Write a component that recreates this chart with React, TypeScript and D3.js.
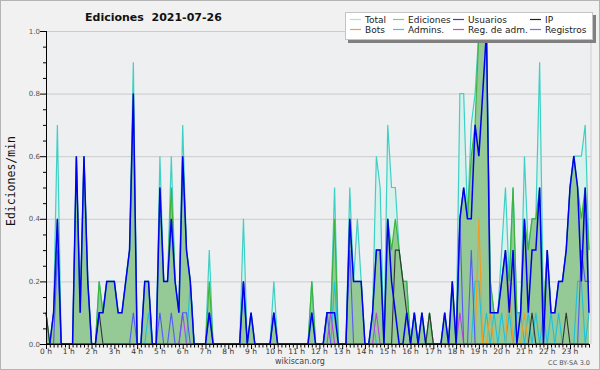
import React from "react";
import * as d3 from "d3";

// 10-minute buckets, values in edits/min
const hourLabels = d3.range(24).map((h) => `${h} h`);
const yLabels = [0, 0.2, 0.4, 0.6, 0.8, 1.0];

const total = [
  0.1, 0, 0.1, 0.7, 0, 0, 0, 0, 0.6, 0.1, 0.6, 0.2,
  0, 0, 0.2, 0.1, 0.2, 0.2, 0.2, 0.1, 0.1, 0.2, 0.3, 0.9,
  0, 0, 0.2, 0.2, 0, 0, 0.6, 0.2, 0.2, 0.6, 0.2, 0.1,
  0.7, 0.3, 0.2, 0, 0, 0, 0, 0.3, 0, 0, 0, 0,
  0, 0, 0, 0, 0.4, 0, 0.1, 0, 0, 0, 0, 0,
  0.2, 0, 0, 0, 0, 0, 0, 0, 0, 0, 0.2, 0,
  0, 0, 0.1, 0.1, 0.5, 0, 0, 0, 0.5, 0.2, 0.4, 0.2,
  0, 0, 0.1, 0.6, 0.5, 0, 0.7, 0.5, 0.5, 0.3, 0.2, 0.2,
  0, 0.1, 0, 0.1, 0, 0.1, 0, 0, 0, 0.1, 0, 0.2,
  0, 0.8, 0.8, 0.4, 0.7, 0.8, 1, 1, 1, 0.2, 0.1, 0.1,
  0.3, 0.5, 0.2, 0.5, 0.1, 0.1, 0.6, 0.3, 0.4, 0.4, 0.9, 0.1,
  0.3, 0.1, 0.1, 0.2, 0.2, 0.3, 0.5, 0.6, 0.6, 0.6, 0.7, 0.3,
];

const ediciones = [
  0.1, 0, 0.1, 0.4, 0, 0, 0, 0, 0.6, 0.1, 0.6, 0.2,
  0, 0, 0.2, 0.1, 0.2, 0.2, 0.2, 0.1, 0.1, 0.2, 0.3, 0.8,
  0, 0, 0.2, 0.2, 0, 0, 0.5, 0.2, 0.2, 0.5, 0.2, 0.1,
  0.6, 0.3, 0.2, 0, 0, 0, 0, 0.2, 0, 0, 0, 0,
  0, 0, 0, 0, 0.2, 0, 0.1, 0, 0, 0, 0, 0,
  0.1, 0, 0, 0, 0, 0, 0, 0, 0, 0, 0.2, 0,
  0, 0, 0.1, 0.1, 0.4, 0, 0, 0, 0.4, 0.2, 0.2, 0.2,
  0, 0, 0.1, 0.3, 0.3, 0, 0.4, 0.3, 0.4, 0.3, 0.2, 0.2,
  0, 0.1, 0, 0.1, 0, 0.1, 0, 0, 0, 0.1, 0, 0.2,
  0, 0.4, 0.5, 0.4, 0.6, 0.7, 1, 1, 1, 0.2, 0.1, 0.1,
  0.2, 0.3, 0.2, 0.5, 0.1, 0.1, 0.4, 0.3, 0.4, 0.4, 0.5, 0.1,
  0.3, 0.1, 0.1, 0.2, 0.2, 0.3, 0.5, 0.6, 0.5, 0.4, 0.5, 0.3,
];

const usuarios = [
  0, 0, 0.1, 0.4, 0, 0, 0, 0, 0.6, 0.1, 0.6, 0.2,
  0, 0, 0.1, 0.1, 0.2, 0.2, 0.2, 0.1, 0.1, 0.2, 0.3, 0.8,
  0, 0, 0.2, 0.2, 0, 0, 0.5, 0.2, 0.2, 0.4, 0.2, 0.1,
  0.6, 0.3, 0.2, 0, 0, 0, 0, 0.1, 0, 0, 0, 0,
  0, 0, 0, 0, 0.2, 0, 0.1, 0, 0, 0, 0, 0,
  0.1, 0, 0, 0, 0, 0, 0, 0, 0, 0, 0.1, 0,
  0, 0, 0.1, 0.1, 0.1, 0, 0, 0, 0.4, 0.2, 0.2, 0.2,
  0, 0, 0.1, 0.3, 0.3, 0, 0.4, 0.2, 0.1, 0, 0, 0.1,
  0, 0.1, 0, 0.1, 0, 0, 0, 0, 0, 0.1, 0, 0.2,
  0, 0.4, 0.5, 0.4, 0.4, 0.7, 0.6, 0.8, 1, 0.1, 0.1, 0.1,
  0.2, 0.3, 0.1, 0.3, 0, 0.1, 0.4, 0.1, 0.3, 0.3, 0.5, 0,
  0.3, 0.1, 0.1, 0.2, 0.2, 0.3, 0.5, 0.6, 0.5, 0.2, 0.5, 0.1,
];

const ip = [
  0.1, 0, 0, 0, 0, 0, 0, 0, 0, 0, 0, 0,
  0, 0, 0.1, 0, 0, 0, 0, 0, 0, 0, 0, 0,
  0, 0, 0, 0, 0, 0, 0, 0, 0, 0, 0, 0,
  0, 0, 0, 0, 0, 0, 0, 0, 0, 0, 0, 0,
  0, 0, 0, 0, 0, 0, 0, 0, 0, 0, 0, 0,
  0, 0, 0, 0, 0, 0, 0, 0, 0, 0, 0, 0,
  0, 0, 0, 0, 0, 0, 0, 0, 0, 0, 0, 0,
  0, 0, 0, 0, 0, 0, 0, 0, 0.3, 0.3, 0.2, 0.1,
  0, 0, 0, 0, 0, 0.1, 0, 0, 0, 0, 0, 0,
  0, 0, 0, 0, 0, 0, 0, 0, 0, 0, 0, 0,
  0, 0, 0, 0, 0, 0, 0, 0, 0.1, 0, 0, 0,
  0, 0, 0, 0, 0, 0.1, 0, 0, 0, 0, 0, 0,
];

const bots = [
  0, 0, 0, 0, 0, 0, 0, 0, 0, 0, 0, 0,
  0, 0, 0, 0, 0, 0, 0, 0, 0, 0, 0, 0,
  0, 0, 0, 0, 0, 0, 0, 0, 0, 0, 0, 0,
  0, 0, 0, 0, 0, 0, 0, 0, 0, 0, 0, 0,
  0, 0, 0, 0, 0, 0, 0, 0, 0, 0, 0, 0,
  0, 0, 0, 0, 0, 0, 0, 0, 0, 0, 0, 0,
  0, 0, 0, 0, 0, 0, 0, 0, 0, 0, 0, 0,
  0, 0, 0, 0, 0, 0, 0, 0, 0, 0, 0, 0,
  0, 0, 0, 0, 0, 0, 0, 0, 0, 0, 0, 0,
  0, 0, 0, 0, 0, 0, 0.4, 0, 0, 0.1, 0, 0,
  0, 0, 0.2, 0, 0, 0, 0.1, 0, 0, 0, 0, 0,
  0, 0, 0, 0, 0, 0, 0, 0, 0, 0, 0, 0,
];

const admins = [
  0, 0, 0, 0, 0, 0, 0, 0, 0, 0, 0, 0,
  0, 0, 0, 0, 0, 0, 0, 0, 0, 0, 0, 0,
  0, 0, 0, 0.1, 0, 0, 0, 0, 0, 0, 0, 0,
  0, 0, 0.2, 0, 0, 0, 0, 0.1, 0, 0, 0, 0,
  0, 0, 0, 0, 0, 0, 0, 0, 0, 0, 0, 0,
  0, 0, 0, 0, 0, 0, 0, 0, 0, 0, 0.1, 0,
  0, 0, 0, 0, 0.2, 0, 0, 0, 0, 0, 0, 0,
  0, 0, 0.1, 0, 0, 0, 0, 0, 0, 0, 0, 0,
  0, 0.1, 0, 0, 0, 0, 0, 0, 0, 0, 0, 0,
  0, 0, 0, 0, 0, 0.2, 0.2, 0, 0.1, 0, 0.1, 0,
  0.1, 0, 0.1, 0, 0.1, 0.1, 0, 0.1, 0, 0.1, 0, 0.1,
  0, 0.1, 0, 0.1, 0, 0, 0, 0, 0.2, 0.2, 0, 0.1,
];

const regAdm = [
  0, 0, 0, 0, 0, 0, 0, 0, 0, 0, 0, 0,
  0, 0, 0, 0, 0, 0, 0, 0, 0, 0, 0, 0,
  0, 0, 0, 0, 0, 0, 0, 0, 0, 0, 0, 0,
  0.1, 0, 0, 0, 0, 0, 0, 0, 0, 0, 0, 0,
  0, 0, 0, 0, 0, 0, 0, 0, 0, 0, 0, 0,
  0, 0, 0, 0, 0, 0, 0, 0, 0, 0, 0, 0,
  0, 0, 0, 0.1, 0, 0, 0, 0, 0, 0, 0, 0,
  0, 0, 0, 0.1, 0, 0, 0, 0, 0, 0, 0, 0,
  0, 0, 0, 0, 0, 0, 0, 0, 0, 0, 0, 0,
  0, 0.1, 0, 0, 0, 0, 0, 0, 0, 0, 0, 0,
  0, 0, 0, 0, 0, 0, 0, 0, 0, 0, 0, 0,
  0, 0, 0, 0, 0, 0, 0, 0, 0, 0, 0, 0,
];

const registros = [
  0, 0, 0, 0.3, 0, 0, 0, 0, 0, 0, 0, 0,
  0, 0, 0, 0, 0, 0, 0, 0, 0, 0, 0, 0.1,
  0, 0, 0, 0, 0, 0, 0.1, 0, 0, 0.1, 0, 0,
  0.1, 0.1, 0, 0, 0, 0, 0, 0.1, 0, 0, 0, 0,
  0, 0, 0, 0, 0.2, 0, 0, 0, 0, 0, 0, 0,
  0.1, 0, 0, 0, 0, 0, 0, 0, 0, 0, 0, 0,
  0, 0, 0.1, 0, 0, 0, 0, 0, 0.3, 0, 0, 0,
  0, 0, 0, 0, 0, 0, 0, 0, 0, 0, 0, 0,
  0, 0, 0, 0, 0, 0, 0, 0, 0, 0, 0, 0,
  0, 0.4, 0, 0, 0.3, 0, 0, 0, 0, 0, 0, 0,
  0, 0, 0, 0, 0, 0, 0, 0, 0, 0, 0, 0,
  0, 0, 0, 0, 0, 0, 0, 0, 0, 0.3, 0.2, 0.2,
];

const legendNames = ["Total", "Ediciones", "Usuarios", "IP", "Bots", "Admins.", "Reg. de adm.", "Registros"];
const legendColors = ["#a6e3de", "#7fce7f", "#3a3ae6", "#222222", "#f2a03c", "#3cc4e4", "#c646e0", "#7272f2"];
const legendCols = [350, 393, 453, 530];

const FONT = "'DejaVu Sans', Verdana, sans-serif";

export default function App() {
  const x = d3.scaleLinear().domain([0, 143]).range([46, 589]);
  const y = d3.scaleLinear().domain([0, 1]).range([344, 31]);

  const line = d3
    .line<number>()
    .x((_, i) => x(i))
    .y((d) => y(d));
  const area = d3
    .area<number>()
    .x((_, i) => x(i))
    .y0(y(0))
    .y1((d) => y(d));

  const yTicks = d3.range(0, 21).map((k) => k / 20);

  return (
    <svg width={600} height={370} style={{ position: "absolute", left: 0, top: 0 }} fontFamily={FONT}>
      <rect x={0.5} y={0.5} width={599} height={369} fill="#f1f1f1" stroke="#b4b4b4" />
      <rect x={46} y={31} width={545} height={313} fill="#edeff1" />
      <line x1={591} x2={591} y1={31} y2={344} stroke="#cfcfcf" />

      {/* grid */}
      {yLabels.slice(1).map((v) => (
        <line key={v} x1={46} x2={591} y1={y(v) + 0.5} y2={y(v) + 0.5} stroke="#cccccc" />
      ))}

      {/* title */}
      <text x={85} y={21} fontSize={11} fontWeight="bold" fill="#111" style={{ whiteSpace: "pre" }}>
        {"Ediciones  2021-07-26"}
      </text>

      {/* series */}
      <path d={area(total) ?? ""} fill="#d9f1ed" />
      <path d={area(ediciones) ?? ""} fill="#95c995" />
      <path d={line(total) ?? ""} fill="none" stroke="#3ed0c4" strokeWidth={1.2} />
      <path d={line(ediciones) ?? ""} fill="none" stroke="#3cb43c" strokeWidth={1.2} />
      <path d={line(admins) ?? ""} fill="none" stroke="#1fc0e0" strokeWidth={1.1} />
      <path d={line(bots) ?? ""} fill="none" stroke="#f59a20" strokeWidth={1.1} />
      <path d={line(regAdm) ?? ""} fill="none" stroke="#c040e0" strokeWidth={1.1} />
      <path d={line(registros) ?? ""} fill="none" stroke="#5858f5" strokeWidth={1.1} />
      <path d={line(ip) ?? ""} fill="none" stroke="#333333" strokeWidth={1.1} />
      <path d={line(usuarios) ?? ""} fill="none" stroke="#0000ee" strokeWidth={1.5} />

      {/* y axis */}
      <line x1={46.5} x2={46.5} y1={31} y2={345} stroke="#000" />
      {yTicks.map((v, k) => (
        <line
          key={k}
          x1={k % 4 === 0 ? 40 : 43}
          x2={46}
          y1={y(v) + 0.5}
          y2={y(v) + 0.5}
          stroke="#000"
        />
      ))}
      {yLabels.map((v) => (
        <text key={v} x={40} y={y(v) + 2.5} fontSize={7} fill="#555" textAnchor="end">
          {v.toFixed(1)}
        </text>
      ))}
      <text
        transform={`translate(15,181) rotate(-90)`}
        textAnchor="middle"
        fontSize={11.5}
        fontFamily="'DejaVu Sans Mono', monospace"
        fill="#111"
      >
        Ediciones/min
      </text>

      {/* x axis */}
      <line x1={46} x2={590} y1={344.5} y2={344.5} stroke="#000" />
      {d3.range(144).map((i) => (
        <line key={i} x1={x(i) + 0.5} x2={x(i) + 0.5} y1={344} y2={i % 6 === 0 ? 349 : 347.5} stroke="#000" />
      ))}
      {hourLabels.map((h, k) => (
        <text key={h} x={x(k * 6)} y={354} fontSize={7.5} fill="#333" textAnchor="middle">
          {h}
        </text>
      ))}
      <text x={300} y={364} fontSize={8} fill="#444" textAnchor="middle">
        wikiscan.org
      </text>
      <text x={590} y={365} fontSize={6.5} fill="#555" textAnchor="end">
        CC BY-SA 3.0
      </text>

      {/* legend */}
      <rect x={348} y={15} width={248} height={28} fill="#808080" />
      <rect x={345.5} y={12.5} width={247} height={27} fill="#ffffff" stroke="#c4c4c4" />
      {legendNames.map((name, k) => {
        const col = k % 4;
        const row = Math.floor(k / 4);
        const lx = legendCols[col];
        const ly = 19.5 + row * 10;
        return (
          <g key={name}>
            <line x1={lx} x2={lx + 11} y1={ly} y2={ly} stroke={legendColors[k]} strokeWidth={1.2} />
            <text x={lx + 15} y={ly + 3.2} fontSize={9} fill="#222">
              {name}
            </text>
          </g>
        );
      })}
    </svg>
  );
}
